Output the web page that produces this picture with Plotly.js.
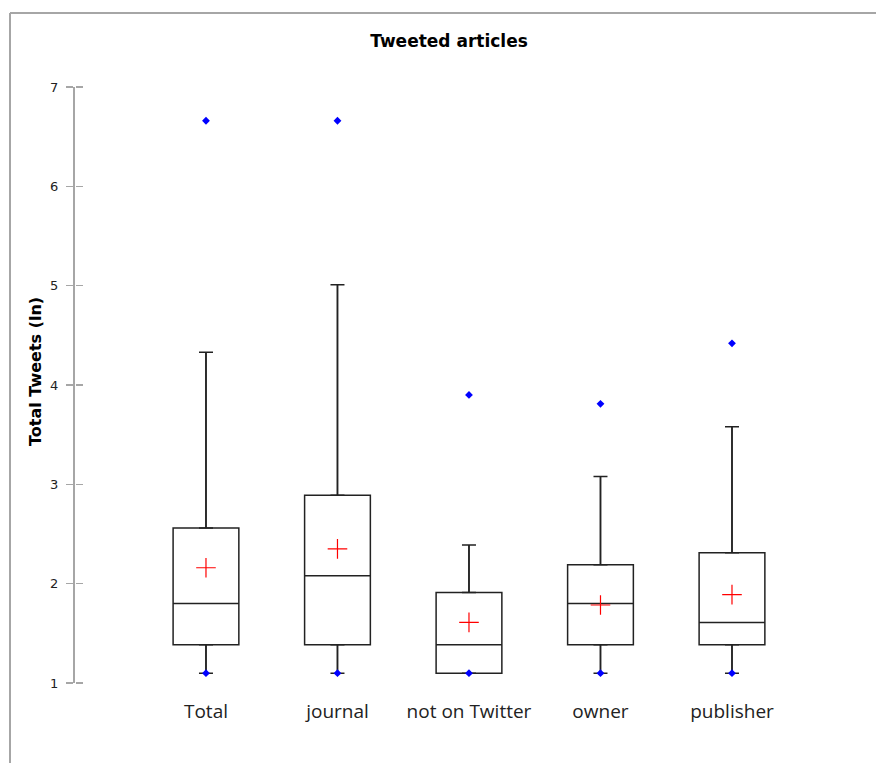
<!DOCTYPE html>
<html>
<head>
<meta charset="utf-8">
<script src="https://cdn.plot.ly/plotly-3.0.1.min.js"></script>
<style>html,body{margin:0;padding:0;background:#fff;}#chart{width:876px;height:763px;}</style>
</head>
<body>
<div id="chart"></div>
<script>
var categories = ['Total', 'journal', 'not on Twitter', 'owner', 'publisher'];
var q1Vals = [1.386, 1.386, 1.099, 1.386, 1.386];
var medianVals = [1.80, 2.08, 1.386, 1.80, 1.61];
var q3Vals = [2.56, 2.89, 1.91, 2.19, 2.31];
var whiskerLow = [1.099, 1.099, 1.099, 1.099, 1.099];
var whiskerHigh = [4.33, 5.01, 2.39, 3.08, 3.58];
var meanVals = [2.16, 2.35, 1.61, 1.785, 1.89];
var minVals = [1.099, 1.099, 1.099, 1.099, 1.099];
var maxVals = [6.66, 6.66, 3.90, 3.81, 4.42];
var yTicks = [1, 2, 3, 4, 5, 6, 7];

var zeros = categories.map(function(){ return 0; });
var upLen = whiskerHigh.map(function(v, i){ return v - q3Vals[i]; });
var lowLen = q1Vals.map(function(v, i){ return v - whiskerLow[i]; });

var traces = [
  {
    type: 'box', x: categories, q1: q1Vals, median: medianVals, q3: q3Vals,
    lowerfence: whiskerLow, upperfence: whiskerHigh,
    boxpoints: false, width: 0.5,
    line: {color: '#222222', width: 1.5}, fillcolor: 'rgba(255,255,255,0)',
    whiskerwidth: 0, showlegend: false, hoverinfo: 'skip'
  },
  {
    type: 'scatter', mode: 'markers', x: categories, y: q3Vals,
    marker: {size: 1, color: 'rgba(0,0,0,0)'},
    error_y: {type: 'data', symmetric: false, array: upLen, arrayminus: zeros, width: 7, thickness: 1.5, color: '#222222'},
    showlegend: false, hoverinfo: 'skip'
  },
  {
    type: 'scatter', mode: 'markers', x: categories, y: q1Vals,
    marker: {size: 1, color: 'rgba(0,0,0,0)'},
    error_y: {type: 'data', symmetric: false, array: zeros, arrayminus: lowLen, width: 7, thickness: 1.5, color: '#222222'},
    showlegend: false, hoverinfo: 'skip'
  },
  {
    type: 'scatter', mode: 'markers', x: categories, y: meanVals,
    marker: {symbol: 'cross-thin', size: 14, line: {color: '#ff0000', width: 1.2}},
    showlegend: false
  },
  {
    type: 'scatter', mode: 'markers', x: categories, y: minVals,
    marker: {symbol: 'diamond', size: 6, color: '#0000ff'},
    showlegend: false
  },
  {
    type: 'scatter', mode: 'markers', x: categories, y: maxVals,
    marker: {symbol: 'diamond', size: 6, color: '#0000ff'},
    showlegend: false
  },
  {
    type: 'scatter', mode: 'markers', x: categories, y: meanVals, yaxis: 'y2',
    marker: {size: 1, color: 'rgba(0,0,0,0)'},
    showlegend: false, hoverinfo: 'skip'
  }
];

var axisGray = '#a6a6a6';
var layout = {
  width: 876, height: 763,
  margin: {l: 75, r: 25, t: 87, b: 80},
  paper_bgcolor: '#ffffff', plot_bgcolor: 'rgba(0,0,0,0)',
  showlegend: false,
  title: {
    text: '<b>Tweeted articles</b>',
    font: {family: 'DejaVu Sans', size: 17, color: '#000'},
    xref: 'container', x: 449 / 876, xanchor: 'center',
    yref: 'container', y: 1 - 41 / 763, yanchor: 'middle'
  },
  xaxis: {
    type: 'category', range: [-0.996, 4.905],
    showline: false, showgrid: false, zeroline: false, ticks: '',
    tickfont: {family: 'Open Sans', size: 19, color: '#222'},
    ticklabelstandoff: 15
  },
  yaxis: {
    range: [1, 7], tickvals: yTicks,
    showgrid: false, zeroline: false,
    showline: true, linecolor: axisGray, linewidth: 2,
    ticks: 'outside', ticklen: 7, tickcolor: axisGray, tickwidth: 1.5,
    tickfont: {family: 'DejaVu Sans', size: 13, color: '#222'},
    ticklabelstandoff: 5
  },
  yaxis2: {
    range: [1, 7], tickvals: yTicks, overlaying: 'y', anchor: 'free', position: 0, side: 'right',
    showgrid: false, zeroline: false, showline: false,
    ticks: 'outside', ticklen: 7, tickcolor: axisGray, tickwidth: 1.5,
    showticklabels: false
  },
  annotations: [
    {text: '<b>Total Tweets (ln)</b>', textangle: -90, showarrow: false,
     xref: 'paper', yref: 'paper', x: -40 / 776, y: (683 - 372) / 596,
     xanchor: 'center', yanchor: 'middle',
     font: {family: 'DejaVu Sans', size: 16, color: '#000'}}
  ],
  shapes: [
    {type: 'line', xref: 'paper', yref: 'paper', x0: -65 / 776, x1: 801 / 776, y0: 670 / 596, y1: 670 / 596, line: {color: axisGray, width: 2}},
    {type: 'line', xref: 'paper', yref: 'paper', x0: -65 / 776, x1: -65 / 776, y0: 670 / 596, y1: -80 / 596, line: {color: axisGray, width: 2}}
  ]
};

Plotly.newPlot('chart', traces, layout, {displayModeBar: false, staticPlot: true});
</script>
</body>
</html>
